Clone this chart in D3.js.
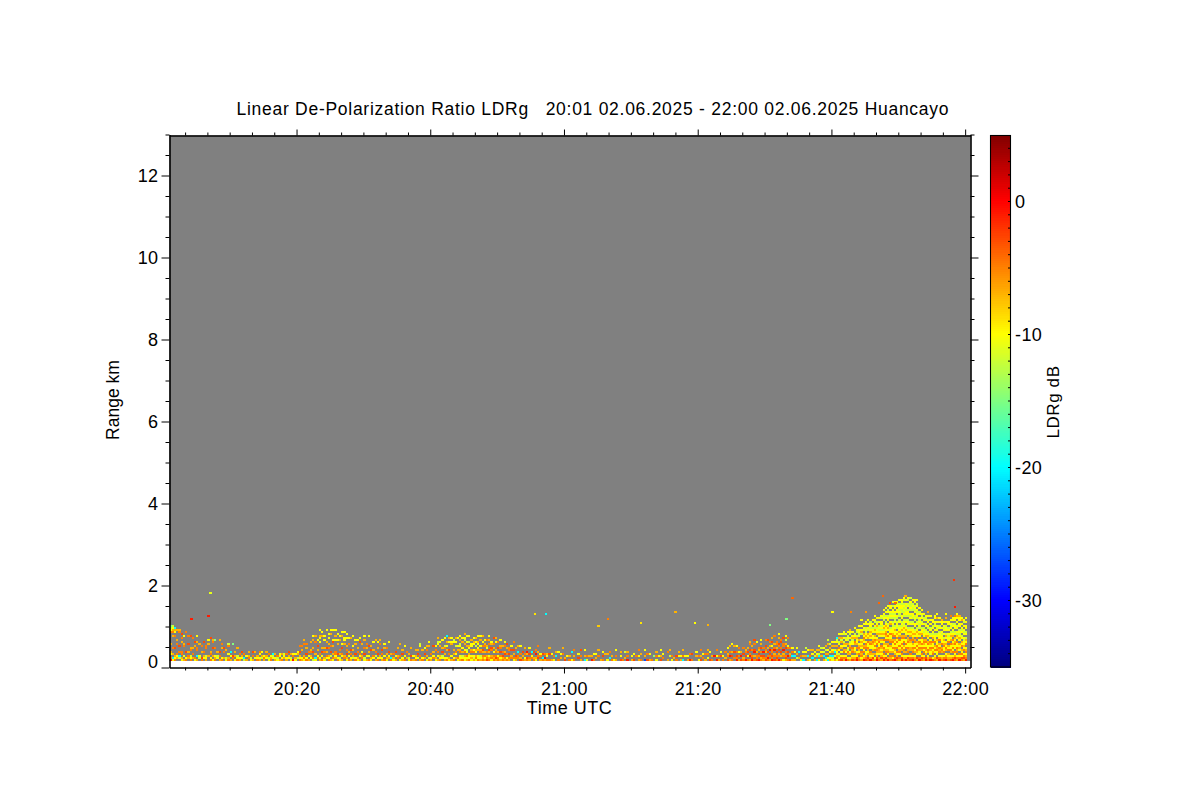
<!DOCTYPE html>
<html><head><meta charset="utf-8">
<script src="https://cdn.jsdelivr.net/npm/d3@7"></script>
<style>
html,body{margin:0;padding:0;background:#fff}
svg{display:block}
text{font-family:"Liberation Sans",Arial,sans-serif;fill:#000}
</style></head><body>
<svg id="c" width="1200" height="800"></svg>
<script>
const titleText = "Linear De-Polarization Ratio LDRg   20:01 02.06.2025 - 22:00 02.06.2025 Huancayo";
const xLabel = "Time UTC", yLabel = "Range km", cLabel = "LDRg dB";
const timeTicks = [20,40,60,80,100,120];            // minutes after 20:00
const rangeTicks = [2,4,6,8,10,12];
const rangeTickZero = 0;
const colorTicks = [0,-10,-20,-30];
const colorDomain = [-35,5];
const firstMinute = 1, gateStartKm = 0.16, gateKm = 0.0488, stepMinute = 1/3;
// LDRg (dB) by letter
const levelKeys = ["d","r","e","o","a","y","l","g","c","b"];
const levelDb   = [ 1, -1, -3, -5, -7,-10,-12,-15,-20,-27];
// one token per 20 s profile, lowest gate first, "." = no signal (10 profiles per line)
const profileBlocks = [
"ro.ya...a.....oylg yc.a..o.....a.oayl oya...e.....o.yac .ayo....o.a....a .lc.o..e......oa ya.oo....a.o.e a.y....oa...y. oy..e.........o .ao.a...e...o oyl..oa.....e",
".a.o..a....o yo.....a.e. a.c..oo..a..y .ly.....a... oe..a..o.... .ya.o....e.. ayl...oo.... ..a.....a.y oy.oa......e y.a...e..oa",
"oay...o...g .yl.a..... a.o.e.....a oy....a.o. .a..o.e... yl...a.... oa.y...ol. a.y.c..... .oe.....g. y.a.a.....",
"oyl...a ay.o... .ya.e.. lc.o... a.y... .oa.a. yl..... a.o.e.. .y..a.. oya...",
"ay.yo .la.y aoy.. .ya.a yl.o. oay.. .ylc. ay.a. ylo.. a.yy",
"oy.a. .ayl ay.o. .ya.e yl.a. r.oy. ya.y. .l.ay.. oya.e..o ay...a.o",
"yoa.....o.a oy.e..a.o a.y.o...... .ya.oa...a. lo..e.a...a.y yc.a.....o..a .oy..a.e..y.. ay.o.....y.ya..y o.y.e.a.....a.y ya..o.a...y.y.",
".yo.a.e..a.....y oya...o.a..y.y.. a.l.e..o.....a.y yo.a...a.ey....y .ayoo.....y.a..y oy.e....a.y..y. yl.a.o....a.y.. a.yo..e.y...a.y .oa.....a.yy..y ya.e.o.a...y.y",
"o.y.a...o..y. ay.o.e.....a.. .la..a.y....y oy.e....a.y. ya..o.a...y.. a.yo.....e.y. .oa.y...a... yl.e..o...a.y a.y...a.o.. o.y.a..e....y",
"ya...e.a.... .yo..a...y. a.l.o.....a oy.e..a..y. .ya.....o.a ay.o.e..... o.y...a.y. ya.a..o... .ay.e....y oc.a...",
"ya.o..... a.y.e... .oa...a. y.o.....a ay.e.a... o.y....y. .a..o... yl.a..... o.e...a. a.y...",
"oya..a... .y.e.a.... a.o....yl. oy...a.. .a.e..y.... y.a..o.a. ol.....a.y. ay.o...... .oy.a..e. ya...o.y..",
"a.y.o...yl.a.. oya....a.y.. .yl.e.a...y. ay.a..ol...y oy...a.y.a..c ya.o.e...y.a a.y.....ay.y.. oy.a.a...yl.. .a.yo..l.y.a. yo...a.y...y",
"ayy.oa.yl.a.y. oyl.a.y..a.y.. yya.oy..a.ly.a ayo.yl.a.y..y oyya..ya.l..y yay.oa.yy.a... aly.oy..ya.y.. yoa.ya.l.y.a. oyy..ay.ya..y ayl.oa.y..a.y",
"oao.ae.o.y..a. ayo.a..oa.y.. eoa.o.ya..o.. oay.ae..o.a.y yoa..oe.ay... oao.y.a.o..e.. aeo.oa...y.a ooy.a.e..o... ayo.e.oa..y. oae.o..a..",
"ao.ea..o.y. oy.o..a.e. ao.e.oo.... .oa..e.y.. yo.a.e...o aoe...a.. .oo.c..a. ea.o...y. o.a.e... ay.o..a",
"oe.ar. ao.e..y .oy.c oa..e ya.r.o .eo.a..o a.oy. oc.e.. ar.o. o.ya",
"o..e..a a..y.. y.o. ..c.a o...y .a.y ...o..a ea. ..y. o.a.",
"y...c. o.a..o ... .e.y.. a.o..e .. c.a..y y.o ..a.. r.a.",
"o..y.. .a.y.. ..o..a a... o.e.y. ...a y..a.. .c..o o.a... y...",
"a.o..y .. e.y.a o.. .a..l.. r.o.a .. a.y... e..y ..o..",
"a.y..o o..a .. b.a..y e..o. a..y.. o.. ..g.. y.o.a. ..y",
"e.a..y .o.y.. .. a...o ..l..a y.o. .a.. o.e... ..y.a a.y.",
"c.o..a ..y a.y.. r..o.. o..e .. ..a.y y.o.. e.a..o .o.y",
"a..o .y.o.a e...y o.a.. ..r r.y..o a.o.. ..e.y o.y... .a..o",
"e.oa..y a.r.o..a o.e.a...y .o..e..a roe.o..y. a.o.y.o. e.r.a... oa.e..o. r.e.oa.... o.y.e.a",
"a.ro.e..oa. reo..o.a.. o.a.re..o.e eoo.a....y. r.oe.ao.... oae.o.e.a.y. aoe.r.o... eo..ao.e..o. oro.e.a...e. a.oe.r.a.o..",
"roe.oo.y.e.a.. e.oa.ro.a...o. oeo.e.a.oo.... r.oa.e.oe..a.y. o.a.e.o..eo.. y.oa.r.oo..e. aeo.o.e.a.l.y. o.r.e.oy...o. e.oa..o.. a.c.o.y..",
"a.c.y. .l.a..y .a..c y.o.. c.a.y. ..a.y.l a.c..y y.o..a .c.y.a a.l.y.",
"c.ay.a y.cl.a.y. ..a.y.l.. a.c.l.y.. yc.a.l.a. cy.a.y..a.l ayc.y.a.l.. ylc.ay.a.y a.y.cl.a.y. yoalya.a.ylc",
"oyal.yo.yl.a.y eoy.y.ay.ala.y.. aoy.oa.yal.y.ly roy.ya.ya.yl.y.. oy.aoly.a.lyl.y. ay.ay.oayl.y.lya eay.oao.yylay.y. oay.ayy.ao.ayl..y reyay.o.ayyal.ly oa.oyaoay.a.ylyy.y",
"ayoao.yayay..lay.y..y ray.oyoa.yaoya.ly.y.. eoayy.oaoy.yaylyl.yy oe.ayaoyyo.aya.ly.y.y rayao.yyoa.yayaylyyl.. oeya.ayyaoayy.yyl.y.y ay.a.oyoyaoya.yaly.ly.y reayaoa.oyay.ayylayl.y. oa.yaaoyyoa.yaylyl.y.y aeayayao.ya.yaylylyy.ly",
"royo.aoyayo.yaylay..lyly.y oey.oayya.oyaoayyayl.yl.y.y ra.yoayoa.oyoy.yayl.yyl.yl.y oao.ayya.oayyoyyl.ay.lyly.yy eyo.ayoyyoa.oayyylyl.lylyy.l.y ro.ayaoyoya.oyyayl.yllyly.yy.y oeayo.oyyoyoyay.lyyl.ly.yy.yly ao.yoayoyyo.ayayyl.yl.llylyyl.y reyo.aoyoyyoa.yaylyl.yy.llyylyy oay.aoya.oyoa.yyaylyl.lylylyl.ly",
"ray.a.oyoyy.ayyayl.yl.lyylyly.y oey.oaoyyoaa.yayl.yyl.lyyl.yl.ly eoyo.aayyao.ayayl.yl.yly.lylly.l roy.oaoya.oayayyl.yl.lyy.llyl.y oay.ayoyyoa.yayl.yy.lyl.ylyl.yy ae.yaoyoya.oyyayl.yl.lyyly.yl.y ro.yyaoyaoy.yay.lylyly.yl.y oeyo.aoyoyyo.ayyl.yl.yly.y aoy.oyoyaoa.yylyl.y.yl.y re.ayaoyyoa.ayyl.yl.yly",
"oay.aoyyoa.yayl.ly.yl.y.a ro.yyaoyaoy.yl.yl.y.y.y ey.oayoyyo.ayly.yl.yy.. oay.yoya.oyyyl.y.yly.yy ae.yyoaoyya.yl.yly.y.a.y roy.oaoya.oyyyl.yl.y.y oay.aoa.oyyyyly.y.yya eoy.oyyoayal.y.yly.y roay.aoyay.yal.yyl.y.a.y oaya.oya.oyyly.yl.yy",
"eay.aoyyo.ayayl.yly.y.o roy.oyoyayo.ayly.yl.yy oeayo.yyoaya.yl.yyl.yyo aoy.oaoyyo.yaly.yl.y.yay royo.yaya.yaylyl.yy.yya oeyoya.oya.yl.yly.y.ay aeoy.oyayyly.yly.y.ly roayoay.oyal.yl.yy.y.y"
];
// isolated returns above the main layer
const strayMinutes = [6.97,6.67,4.13,55.5,57.1,65.0,66.4,71.4,76.5,79.4,81.4,94.0,118.2,107.6,110.9,108.6,109.4,90.7,93.1,100,102.8,105,107,118.3];
const strayRangeKm = [1.80,1.22,1.15,1.27,1.29,0.98,1.15,1.07,1.34,1.05,1.02,1.66,2.10,1.73,1.71,1.54,1.56,1.02,1.15,1.34,1.34,1.32,1.56,1.44];
const strayDb      = [-11,-1,-1,-9,-20,-8,-5,-9,-7,-10,-7,-4,-2,-4,-7,-3,-4,-15,-15,-10,-5,-6,-4,-1];

const svg = d3.select("#c");
const x = d3.scaleLinear().domain([firstMinute, 120.8]).range([169.5, 970.5]);
const y = d3.scaleLinear().domain([0, 13]).range([667.5, 134.5]);
const cy = d3.scaleLinear().domain(colorDomain).range([667, 135]);
const jet = t => {
  const f = v => Math.round(255*Math.max(0, Math.min(1, 1.5-Math.abs(v))));
  return `rgb(${f(4*t-3)},${f(4*t-2)},${f(4*t-1)})`;
};
const color = d3.scaleSequential(jet).domain(colorDomain);
const dbOf = Object.fromEntries(levelKeys.map((k,i)=>[k,levelDb[i]]));

// panel
svg.append("rect").attr("x",x.range()[0]).attr("y",135.5)
  .attr("width",x.range()[1]-x.range()[0]).attr("height",y(gateStartKm)-135.5).attr("fill","#808080");

// cells
const profiles = profileBlocks.join(" ").split(" ");
const cells = [];
profiles.forEach((p,i)=>{ const m=firstMinute+i*stepMinute; if(m>=x.domain()[1]-stepMinute) return;
  [...p].forEach((ch,g)=>{ if(ch!==".") cells.push({m, km:gateStartKm+g*gateKm, db:dbOf[ch]}); }); });
strayMinutes.forEach((m,i)=>cells.push({m, km:strayRangeKm[i], db:strayDb[i]}));
svg.append("g").attr("shape-rendering","crispEdges").selectAll("rect").data(cells).join("rect")
  .attr("x",d=>x(d.m)).attr("y",d=>y(d.km+gateKm))
  .attr("width",x(firstMinute+stepMinute)-x(firstMinute))
  .attr("height",y(0)-y(gateKm))
  .attr("fill",d=>color(d.db));

// axes
const ax = (gen,tr)=>{ const g=svg.append("g").attr("transform",tr).call(gen);
  g.select(".domain").attr("stroke","#000").attr("stroke-width",1.1);
  g.selectAll("line").attr("stroke","#000").attr("stroke-width",1);
  g.selectAll("text").attr("font-family",null).attr("font-size",null).style("font-size","18px").style("letter-spacing","0.4px");
  return g; };
const fmt = m => `${20+Math.floor(m/60)}:${String(m%60).padStart(2,"0")}`;
const minorMinutes = []; for(let k=1;k*10/3<121;k++){ const m=k*10/3; if(m>=firstMinute && Math.abs(m/20-Math.round(m/20))>1e-6) minorMinutes.push(m); }
const minorKm = d3.range(0.5,13.01,0.5).filter(v=>v%2!==0);
const none = s=>s.tickFormat("").tickSizeOuter(0);

ax(d3.axisBottom(x).tickValues(timeTicks).tickSize(6).tickSizeOuter(0).tickPadding(9).tickFormat(fmt),"translate(0,667.5)");
ax(none(d3.axisBottom(x).tickValues(minorMinutes).tickSize(3)),"translate(0,667.5)");
ax(none(d3.axisTop(x).tickValues(timeTicks).tickSize(6)),"translate(0,135.5)");
ax(none(d3.axisTop(x).tickValues(minorMinutes).tickSize(3)),"translate(0,135.5)");
const left = ax(d3.axisLeft(y).tickValues([rangeTickZero].concat(rangeTicks)).tickSize(8).tickSizeOuter(0).tickPadding(3),"translate(169.5,0)");
left.selectAll("text").attr("dy",d=>d===0?"-0.02em":"0.34em");
ax(none(d3.axisLeft(y).tickValues(minorKm).tickSize(4)),"translate(169.5,0)");
ax(none(d3.axisRight(y).tickValues(rangeTicks).tickSize(8)),"translate(970.5,0)");
ax(none(d3.axisRight(y).tickValues(minorKm).tickSize(4)),"translate(970.5,0)");

// colour bar
const cb = svg.append("g").attr("shape-rendering","crispEdges");
cb.selectAll("rect").data(d3.range(colorDomain[0],colorDomain[1],0.16)).join("rect")
  .attr("x",990.5).attr("width",20).attr("y",d=>cy(d+0.16)).attr("height",d=>cy(d)-cy(d+0.16)+0.5)
  .attr("fill",d=>color(d));
svg.append("rect").attr("x",990.5).attr("y",135.5).attr("width",20).attr("height",531.5)
  .attr("fill","none").attr("stroke","#000").attr("stroke-width",1.1);
svg.append("g").selectAll("line").data(d3.range(colorDomain[0]+1,colorDomain[1])).join("line")
  .attr("x1",1008).attr("x2",1010.5).attr("y1",d=>cy(d)).attr("y2",d=>cy(d)).attr("stroke","#000");
svg.append("g").selectAll("text").data(colorTicks).join("text")
  .attr("x",1015).attr("y",d=>cy(d)).attr("dy","0.34em")
  .style("font-size","18px").style("letter-spacing","0.4px").text(d=>String(d));

// titles
svg.append("text").attr("x",592.5).attr("y",115).attr("text-anchor","middle")
  .style("font-size","17.5px").style("white-space","pre").attr("textLength",712).attr("lengthAdjust","spacing").text(titleText);
svg.append("text").attr("x",569.5).attr("y",714).attr("text-anchor","middle").style("font-size","18px").style("letter-spacing","0.5px").text(xLabel);
svg.append("text").attr("transform","translate(119,400) rotate(-90)").attr("text-anchor","middle").style("font-size","17.5px").text(yLabel);
svg.append("text").attr("transform","translate(1059,402) rotate(-90)").attr("text-anchor","middle").style("font-size","17px").style("letter-spacing","0.6px").text(cLabel);
</script>
</body></html>
